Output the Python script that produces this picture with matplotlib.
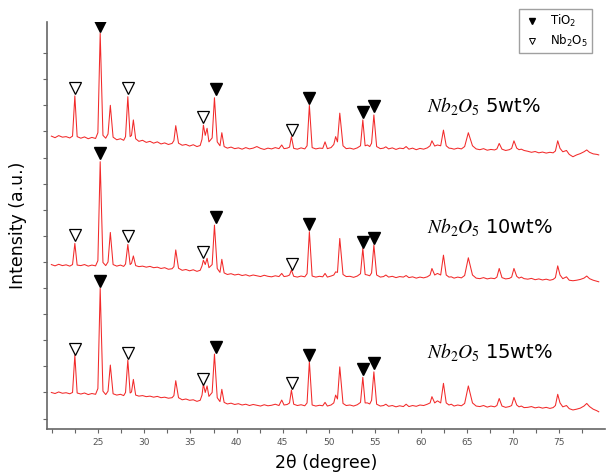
import matplotlib
matplotlib.use("Agg")
import matplotlib.pyplot as plt
from matplotlib.ticker import FixedLocator, NullFormatter
from matplotlib.lines import Line2D

plt.rcParams['mathtext.fontset'] = 'stix'
plt.rcParams['mathtext.default'] = 'regular'

# 2theta vertices (shared by the three patterns)
two_theta = [
    19.9, 20.3, 20.7, 21.1, 21.5, 21.9, 22.2, 22.45, 22.7,
    23.1, 23.5, 23.9, 24.3, 24.7, 24.95, 25.2, 25.5, 25.8, 26.05, 26.3, 26.6,
    27.0, 27.4, 27.75, 27.95, 28.2, 28.45, 28.6, 28.8, 29.05, 29.4,
    29.8, 30.2, 30.6, 31.0, 31.4, 31.8, 32.2, 32.6, 33.0, 33.2, 33.4, 33.7,
    34.1, 34.5, 34.9, 35.3, 35.7, 36.05, 36.25, 36.4, 36.6, 36.8, 37.0, 37.35, 37.6, 37.9, 38.2, 38.4, 38.65,
    39.0, 39.4, 39.8, 40.2, 40.6, 41.0, 41.4, 41.8, 42.2, 42.6, 43.0, 43.4, 43.8, 44.2, 44.6,
    44.9, 45.15, 45.5, 45.75, 45.95, 46.2, 46.6, 47.0, 47.4, 47.65, 47.9, 48.2,
    48.6, 49.0, 49.35, 49.6, 49.85, 50.25, 50.55, 50.75, 50.95, 51.2, 51.55, 51.9,
    52.3, 52.7, 53.1, 53.45, 53.7, 53.95, 54.2, 54.45, 54.65, 54.9, 55.2, 55.6,
    55.95, 56.2, 56.5, 56.9, 57.3, 57.7, 58.1, 58.4, 58.7, 59.1, 59.5, 59.9, 60.3, 60.7,
    61.0, 61.2, 61.5, 61.8, 62.15, 62.45, 62.75, 63.05, 63.3, 63.6, 64.0, 64.4, 64.75, 65.15, 65.6, 66.0,
    66.4, 66.8, 67.2, 67.6, 68.0, 68.25, 68.5, 68.8, 69.2, 69.6, 69.85, 70.1, 70.4, 70.65, 70.9, 71.2,
    71.6, 72.0, 72.4, 72.8, 73.2, 73.6, 74.0, 74.35, 74.6, 74.85, 75.1, 75.4, 75.8, 76.1, 76.5,
    76.9, 77.3, 77.7, 78.0, 78.3, 78.7, 79.1, 79.3,
]

# stacked intensities (a.u.)
int_5wt = [
    10.82, 10.76, 10.84, 10.78, 10.80, 10.75, 10.82, 12.36, 10.80,
    10.74, 10.79, 10.72, 10.77, 10.73, 10.95, 14.76, 10.85, 10.74, 10.9, 12.0, 10.78,
    10.68, 10.72, 10.66, 10.8, 12.33, 10.8, 10.85, 11.44, 10.72, 10.62,
    10.66, 10.58, 10.62, 10.55, 10.6, 10.52, 10.56, 10.5, 10.54, 10.65, 11.22, 10.55,
    10.47, 10.5, 10.44, 10.49, 10.42, 10.46, 10.7, 11.24, 10.85, 11.12, 10.6, 10.75, 12.29, 10.6, 10.45, 10.95, 10.42,
    10.36, 10.4, 10.34, 10.37, 10.32, 10.38, 10.33, 10.36, 10.42, 10.35, 10.31, 10.36, 10.33, 10.38, 10.34,
    10.48, 10.34, 10.36, 10.4, 10.8, 10.35, 10.32, 10.37, 10.33, 10.45, 12.0, 10.38,
    10.33, 10.36, 10.35, 10.6, 10.34, 10.38, 10.5, 10.8, 10.6, 11.7, 10.45, 10.34,
    10.36, 10.32, 10.37, 10.45, 11.44, 10.45, 10.48, 10.42, 10.55, 11.63, 10.42, 10.34,
    10.36, 10.41, 10.33, 10.37, 10.31, 10.36, 10.34, 10.42, 10.32, 10.36, 10.3, 10.35, 10.32, 10.37,
    10.45, 10.64, 10.44, 10.48, 10.45, 11.05, 10.45, 10.36, 10.35, 10.32, 10.36, 10.33, 10.42, 10.95, 10.45, 10.33,
    10.3, 10.34, 10.28, 10.31, 10.29, 10.33, 10.54, 10.32, 10.27, 10.3, 10.35, 10.64, 10.36, 10.3, 10.32, 10.27,
    10.24, 10.2, 10.23, 10.18, 10.21, 10.17, 10.2, 10.18, 10.25, 10.64, 10.35, 10.22, 10.27, 10.12, 10.03,
    10.1, 10.15, 10.22, 10.29, 10.2, 10.14, 10.12, 10.1,
]

int_10wt = [
    5.9, 5.85, 5.91, 5.86, 5.89, 5.84, 5.9, 6.71, 5.88,
    5.86, 5.9, 5.84, 5.88, 5.85, 6.05, 9.84, 5.98, 5.86, 6.0, 7.13, 5.9,
    5.84, 5.88, 5.83, 5.92, 6.67, 5.9, 5.95, 6.23, 5.86, 5.82,
    5.84, 5.8, 5.83, 5.78, 5.8, 5.75, 5.78, 5.72, 5.74, 5.82, 6.46, 5.76,
    5.68, 5.71, 5.66, 5.7, 5.64, 5.68, 5.85, 6.07, 5.9, 6.14, 5.78, 5.9, 7.41, 5.75, 5.6, 6.1, 5.58,
    5.52, 5.55, 5.5, 5.53, 5.48, 5.51, 5.46, 5.5, 5.47, 5.44, 5.49, 5.45, 5.43, 5.47, 5.44,
    5.56, 5.44, 5.46, 5.5, 5.69, 5.45, 5.42, 5.46, 5.43, 5.55, 7.16, 5.46,
    5.42, 5.45, 5.43, 5.56, 5.42, 5.46, 5.5, 5.62, 5.6, 6.9, 5.52, 5.44,
    5.45, 5.41, 5.46, 5.55, 6.52, 5.52, 5.5, 5.47, 5.58, 6.65, 5.5, 5.42,
    5.44, 5.5, 5.42, 5.45, 5.4, 5.44, 5.42, 5.48, 5.4, 5.43, 5.38, 5.42, 5.39, 5.43,
    5.5, 5.75, 5.5, 5.56, 5.5, 6.26, 5.5, 5.42, 5.43, 5.38, 5.42, 5.39, 5.48, 6.16, 5.5, 5.38,
    5.36, 5.4, 5.35, 5.38, 5.36, 5.42, 5.75, 5.4, 5.35, 5.37, 5.42, 5.75, 5.45, 5.38, 5.42, 5.36,
    5.34, 5.37, 5.32, 5.35, 5.31, 5.34, 5.3, 5.33, 5.4, 5.85, 5.5, 5.36, 5.43, 5.3, 5.28,
    5.3, 5.33, 5.38, 5.46, 5.36, 5.3, 5.26, 5.24,
]

int_15wt = [
    1.0, 0.96, 1.02, 0.97, 0.99, 0.95, 1.0, 2.43, 0.98,
    0.94, 0.98, 0.92, 0.96, 0.93, 1.15, 4.99, 1.05, 0.92, 1.05, 2.05, 0.95,
    0.9, 0.93, 0.88, 1.0, 2.24, 0.98, 1.02, 1.5, 0.9, 0.86,
    0.88, 0.84, 0.86, 0.82, 0.85, 0.8, 0.82, 0.78, 0.8, 0.88, 1.45, 0.8,
    0.72, 0.75, 0.7, 0.72, 0.66, 0.7, 0.9, 1.32, 1.0, 1.25, 0.85, 1.0, 2.47, 0.8, 0.65, 1.12, 0.62,
    0.56, 0.59, 0.54, 0.57, 0.52, 0.55, 0.5, 0.54, 0.51, 0.48, 0.53, 0.49, 0.51, 0.55, 0.5,
    0.71, 0.52, 0.54, 0.6, 1.09, 0.55, 0.5, 0.53, 0.49, 0.6, 2.18, 0.52,
    0.48, 0.51, 0.49, 0.62, 0.48, 0.52, 0.6, 0.9, 0.75, 1.98, 0.58, 0.5,
    0.52, 0.48, 0.53, 0.62, 1.58, 0.6, 0.6, 0.56, 0.7, 1.79, 0.55, 0.48,
    0.5, 0.55, 0.47, 0.5, 0.45, 0.49, 0.46, 0.55, 0.46, 0.5, 0.47, 0.52, 0.5, 0.55,
    0.6, 0.84, 0.6, 0.68, 0.6, 1.35, 0.6, 0.52, 0.55, 0.48, 0.52, 0.49, 0.58, 1.25, 0.6, 0.48,
    0.46, 0.5, 0.44, 0.48, 0.45, 0.5, 0.77, 0.48, 0.43, 0.46, 0.5, 0.81, 0.52, 0.45, 0.48, 0.42,
    0.43, 0.46, 0.41, 0.44, 0.4, 0.43, 0.39, 0.42, 0.5, 0.93, 0.6, 0.45, 0.5, 0.38, 0.33,
    0.36, 0.4, 0.48, 0.58, 0.46, 0.36, 0.3, 0.26,
]

samples = ["5wt%", "10wt%", "15wt%"]
patterns = [int_5wt, int_10wt, int_15wt]

# phase markers
tio2_pos = [25.2, 37.75, 47.9, 53.75, 54.95]
tio2_y = [
    [15.04, 12.61, 12.27, 11.75, 11.97],
    [10.17, 7.73, 7.45, 6.77, 6.9],
    [5.28, 2.75, 2.43, 1.89, 2.14],
]
nb2o5_pos = [22.45, 28.2, 36.4, 46.0]
nb2o5_y = [
    [12.65, 12.65, 11.54, 11.05],
    [7.03, 6.99, 6.39, 5.92],
    [2.66, 2.5, 1.51, 1.35],
]
label_y = [11.72, 7.1, 2.31]

x_labeled = [25, 30, 35, 40, 45, 50, 55, 60, 65, 70, 75]
x_minor = [20, 22.5, 27.5, 32.5, 37.5, 42.5, 47.5, 52.5, 57.5, 62.5, 67.5, 72.5, 77.5]

fig = plt.figure(figsize=(6.07, 4.76), dpi=100)
ax = fig.add_axes([0.077, 0.0987, 0.92, 0.855])

for i in range(3):
    ax.plot(two_theta, patterns[i], color='#f22a2a', lw=0.75)
    ax.plot(tio2_pos, tio2_y[i], 'v', color='black', ms=8, ls='none')
    ax.plot(nb2o5_pos, nb2o5_y[i], 'v', mfc='white', mec='black', mew=0.9, ms=8, ls='none')
    ax.text(60.7, label_y[i],
            r'$\mathit{Nb}_{\mathrm{2}}\mathit{O}_{\mathrm{5}}$ ' + samples[i],
            fontsize=14, family='DejaVu Sans', va='baseline', ha='left')

ax.set_xlim(19.4, 80.0)
ax.set_ylim(-0.4, 15.19)

ax.xaxis.set_major_locator(FixedLocator(x_labeled))
ax.xaxis.set_minor_locator(FixedLocator(x_minor))
ax.yaxis.set_major_locator(FixedLocator(range(15)))
ax.yaxis.set_major_formatter(NullFormatter())
ax.tick_params(axis='x', which='both', direction='out', length=3, width=0.8,
               colors='#666666', labelsize=6.5, labelcolor='#555555')
ax.tick_params(axis='y', direction='out', length=3, width=0.8, colors='#666666')

for side in ['top', 'right']:
    ax.spines[side].set_visible(False)
for side in ['left', 'bottom']:
    ax.spines[side].set_color('#666666')
    ax.spines[side].set_linewidth(1.2)

ax.set_xlabel('2θ (degree)', fontsize=12.5, labelpad=5)
ax.set_ylabel('Intensity (a.u.)', fontsize=12.5, labelpad=8)

handles = [
    Line2D([], [], marker='v', color='black', ls='none', ms=5),
    Line2D([], [], marker='v', mfc='white', mec='black', mew=0.7, ls='none', ms=5),
]
fig.legend(handles, ['TiO$_2$', 'Nb$_2$O$_5$'], loc='upper right',
           bbox_to_anchor=(0.976, 0.981), borderaxespad=0, fontsize=8.5, frameon=True,
           fancybox=False, edgecolor='#888888', handletextpad=0.8,
           borderpad=0.35, labelspacing=0.3, handlelength=1.5)

fig.savefig('out.png', dpi=100)
